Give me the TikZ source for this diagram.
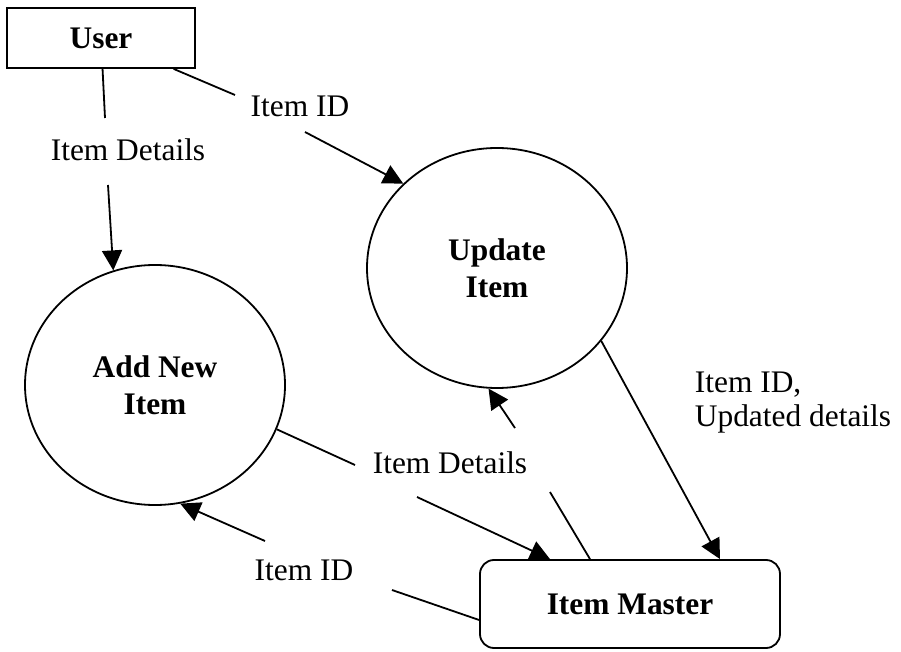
\documentclass[tikz,border=0pt]{standalone}
\usepackage{fontspec}
\setmainfont{Liberation Serif}
\usetikzlibrary{arrows.meta,shapes.geometric}

\begin{document}
\begin{tikzpicture}[>={Triangle[length=10pt,width=10pt]},x=0.5pt,y=-0.5pt,line width=0.9pt,
    font=\fontsize{15.7}{17}\selectfont]
  \tikzstyle{ext}=[draw,minimum width=94pt,minimum height=30pt,font=\fontsize{15.7}{17}\selectfont\bfseries]
  \tikzstyle{proc}=[draw,ellipse,minimum width=130pt,minimum height=120pt,align=center,font=\fontsize{15.7}{18.5}\selectfont\bfseries]
  \tikzstyle{store}=[draw,rounded corners=7pt,minimum width=150pt,minimum height=44pt,font=\fontsize{15.7}{17}\selectfont\bfseries]
  \tikzstyle{flow}=[inner sep=1pt,align=left]
  \useasboundingbox (0,0) rectangle (901,652);
  % entities and processes
  \node[ext] (user) at (101,38) {User};
  \node[proc] (upd) at (497,268) {Update\\Item};
  \node[proc] (add) at (155,385) {Add New\\Item};
  \node[store] (master) at (630,604) {Item Master};
  % flow labels
  \node[flow] (ldet) at (128,150) {Item Details};
  \node[flow] (lid) at (300,106) {Item ID};
  \node[flow] (ldet2) at (450,463) {Item Details};
  \node[flow] (lupd) at (793,403) {Item ID,\\Updated details};
  \node[flow] (lid2) at (304,570) {Item ID};
  % gap ends
  \coordinate (ga) at (105,118);
  \coordinate (gb) at (108,185);
  \coordinate (gc) at (235,95);
  \coordinate (gd) at (305,132);
  \coordinate (ge) at (355,465);
  \coordinate (gf) at (417,497);
  \coordinate (gg) at (550,492);
  \coordinate (gh) at (515,428);
  \coordinate (gi) at (392,590);
  \coordinate (gj) at (265,541);
  % flows
  \draw (user) -- (ga);
  \draw[->] (gb) -- (add.110);
  \draw (user) -- (gc);
  \draw[->] (gd) -- (upd.138);
  \draw (add.-20) -- (ge);
  \draw[->] (gf) -- ([xshift=-40pt]master.north);
  \draw ([xshift=-20pt]master.north) -- (gg);
  \draw[->] (gh) -- (upd.-94);
  \draw[->] (upd.-35) -- ([xshift=45pt]master.north);
  \draw ([yshift=-8pt]master.west) -- (gi);
  \draw[->] (gj) -- (add.-78);
\end{tikzpicture}
\end{document}
